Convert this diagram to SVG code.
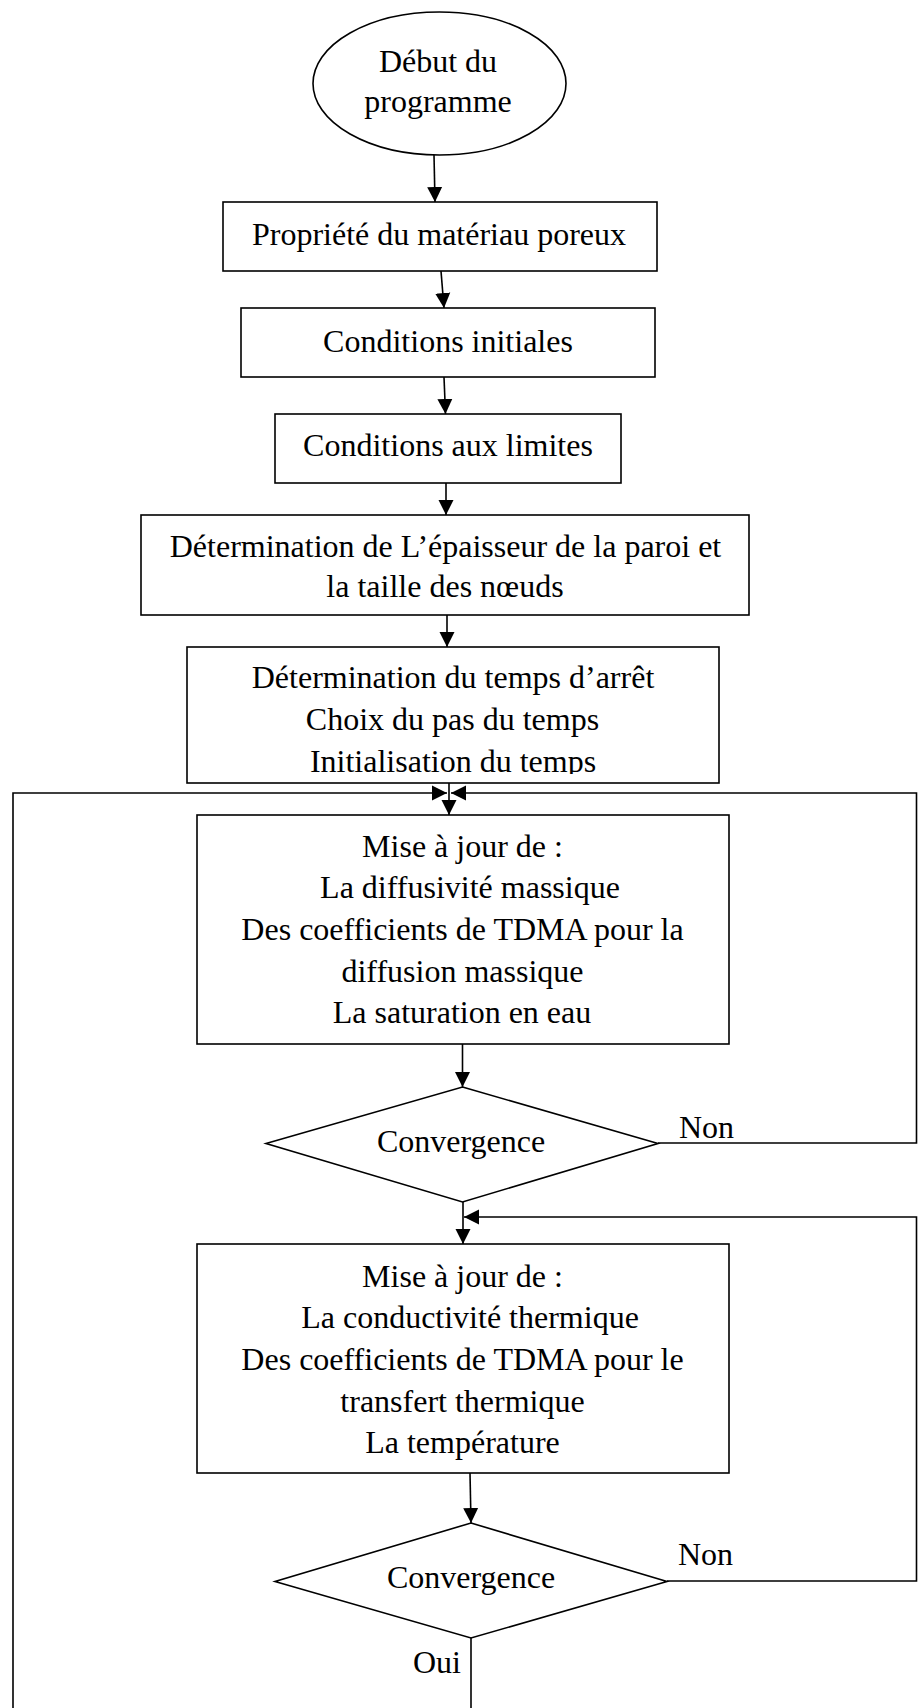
<svg xmlns="http://www.w3.org/2000/svg" width="918" height="1708" viewBox="0 0 918 1708">
<style>
.s{fill:#fff;stroke:#000;stroke-width:1.6}
.c{fill:none;stroke:#000;stroke-width:1.6}
text{font-family:"Liberation Serif","Times New Roman",serif;font-size:32px;fill:#000}
.m{text-anchor:middle}
</style>
<defs>
<marker id="ah" markerUnits="userSpaceOnUse" markerWidth="16" markerHeight="16" viewBox="0 0 16 16" refX="15" refY="8" orient="auto">
<path d="M0,0.5 L15,8 L0,15.5 Z" fill="#000"/>
</marker>
<clipPath id="clip5"><rect x="187" y="647" width="532" height="127"/></clipPath>
</defs>
<g id="connectors">
<path class="c" d="M434,155 L435,202" marker-end="url(#ah)"/>
<path class="c" d="M441,271 L444,308" marker-end="url(#ah)"/>
<path class="c" d="M444,377 L445.5,414" marker-end="url(#ah)"/>
<path class="c" d="M446,483 L446,515" marker-end="url(#ah)"/>
<path class="c" d="M447,615 L447,647" marker-end="url(#ah)"/>
<path class="c" d="M449,783 L449,815" marker-end="url(#ah)"/>
<path class="c" d="M13,1708 L13,793 L447,793" marker-end="url(#ah)"/>
<path class="c" d="M658,1143 L916.5,1143 L916.5,793 L451,793" marker-end="url(#ah)"/>
<path class="c" d="M462.5,1044 L462.5,1087" marker-end="url(#ah)"/>
<path class="c" d="M463,1202 L463,1244" marker-end="url(#ah)"/>
<path class="c" d="M667,1581 L916.5,1581 L916.5,1217 L464,1217" marker-end="url(#ah)"/>
<path class="c" d="M470,1473 L471,1523" marker-end="url(#ah)"/>
<path class="c" d="M471,1638 L471,1708"/>
</g>
<g id="start">
<ellipse class="s" cx="439.5" cy="83.5" rx="126.5" ry="71.5"/>
<text class="m" x="438" y="72">Début du</text>
<text class="m" x="438" y="112">programme</text>
</g>
<g id="prop">
<rect class="s" x="223" y="202" width="434" height="69"/>
<text class="m" x="439" y="245">Propriété du matériau poreux</text>
</g>
<g id="init">
<rect class="s" x="241" y="308" width="414" height="69"/>
<text class="m" x="448" y="352">Conditions initiales</text>
</g>
<g id="limites">
<rect class="s" x="275" y="414" width="346" height="69"/>
<text class="m" x="448" y="456">Conditions aux limites</text>
</g>
<g id="epaisseur">
<rect class="s" x="141" y="515" width="608" height="100"/>
<text class="m" x="445.5" y="557">Détermination de L’épaisseur de la paroi et</text>
<text class="m" x="445" y="597">la taille des nœuds</text>
</g>
<g id="temps">
<rect class="s" x="187" y="647" width="532" height="136"/>
<text class="m" x="453" y="688">Détermination du temps d’arrêt</text>
<text class="m" x="452.5" y="730">Choix du pas du temps</text>
<text class="m" x="453" y="772" clip-path="url(#clip5)">Initialisation du temps</text>
</g>
<g id="maj-masse">
<rect class="s" x="197" y="815" width="532" height="229"/>
<text class="m" x="462.5" y="857">Mise à jour de :</text>
<text class="m" x="470" y="898">La diffusivité massique</text>
<text class="m" x="462.5" y="940">Des coefficients de TDMA pour la</text>
<text class="m" x="462.5" y="982">diffusion massique</text>
<text class="m" x="462" y="1023">La saturation en eau</text>
</g>
<g id="conv1">
<polygon class="s" points="462.5,1087 658,1143.5 462.5,1202 266,1143.5"/>
<text class="m" x="461" y="1152">Convergence</text>
<text x="679" y="1138">Non</text>
</g>
<g id="maj-therm">
<rect class="s" x="197" y="1244" width="532" height="229"/>
<text class="m" x="462.5" y="1287">Mise à jour de :</text>
<text class="m" x="470" y="1328">La conductivité thermique</text>
<text class="m" x="462.5" y="1370">Des coefficients de TDMA pour le</text>
<text class="m" x="462.5" y="1412">transfert thermique</text>
<text class="m" x="462.5" y="1453">La température</text>
</g>
<g id="conv2">
<polygon class="s" points="471,1523 667,1581.5 471,1638 275,1581.5"/>
<text class="m" x="471" y="1588">Convergence</text>
<text x="678" y="1565">Non</text>
<text x="413" y="1673">Oui</text>
</g>
</svg>
